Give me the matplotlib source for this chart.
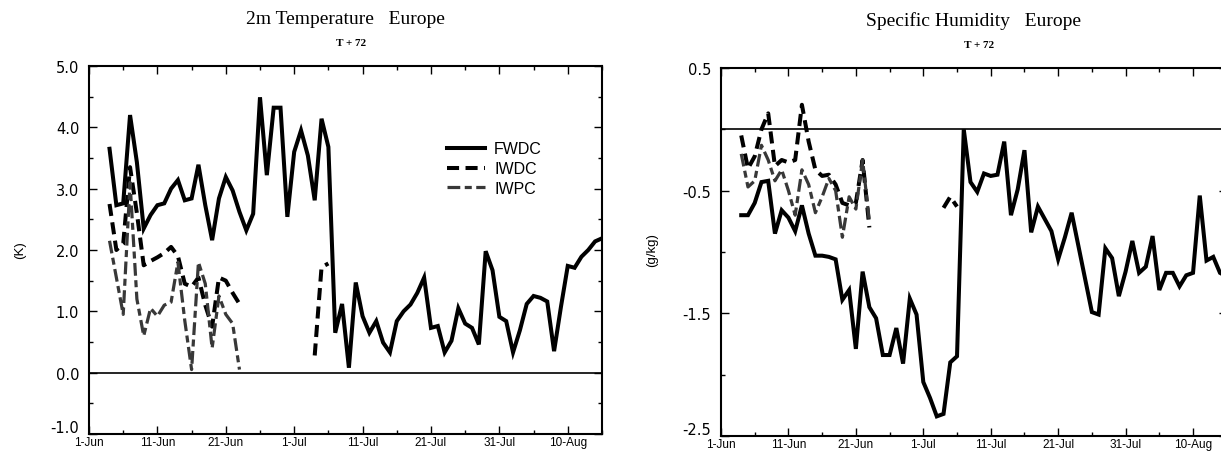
import numpy as np
import matplotlib
matplotlib.use("Agg")
import matplotlib.pyplot as plt
import matplotlib.transforms as mtransforms
from matplotlib.ticker import FixedLocator, MultipleLocator

plt.rcParams['font.family'] = ['Liberation Sans', 'DejaVu Sans']

# days counted from 1-Jun (day 0)
date_ticks = [0, 10, 20, 30, 40, 50, 60, 70]
date_labels = ['1-Jun', '11-Jun', '21-Jun', '1-Jul', '11-Jul', '21-Jul', '31-Jul', '10-Aug']

# 2m temperature (K)
temp_fwdc = [3.65, 2.73, 2.76, 4.2, 3.43, 2.35, 2.57, 2.73, 2.76, 3.0, 3.14, 2.81, 2.84,
             3.39, 2.73, 2.16, 2.84, 3.19, 2.97, 2.62, 2.32, 2.59, 4.49, 3.22, 4.32, 4.32,
             2.54, 3.6, 3.95, 3.54, 2.81, 4.14, 3.68,
             0.65, 1.12, 0.08, 1.47, 0.92, 0.65, 0.84, 0.49, 0.33, 0.84, 1.0, 1.11, 1.3,
             1.55, 0.73, 0.76, 0.33, 0.52, 1.05, 0.8, 0.73, 0.46, 1.98, 1.67, 0.91, 0.84,
             0.33, 0.69, 1.12, 1.25, 1.22, 1.16, 0.35, 1.07, 1.74, 1.71, 1.89, 2.0, 2.14, 2.19]
temp_iwdc_a = [2.75, 2.0, 2.1, 3.35, 2.6, 1.75, 1.82, 1.88, 1.95, 2.05, 1.9, 1.45, 1.4,
               1.55, 1.1, 0.75, 1.55, 1.5, 1.3, 1.12]
temp_iwdc_b = [0.28, 1.72, 1.78]
temp_iwpc = [2.15, 1.55, 0.95, 3.1, 1.2, 0.6, 1.05, 0.92, 1.1, 1.15, 1.8, 0.85, 0.05,
             1.8, 1.45, 0.4, 1.25, 0.95, 0.8, 0.05]

# specific humidity (g/kg)
hum_fwdc = [-0.70, -0.70, -0.6, -0.43, -0.42, -0.85, -0.66, -0.72, -0.83, -0.62, -0.85,
            -1.03, -1.03, -1.04, -1.06, -1.39, -1.31, -1.79, -1.16, -1.45, -1.54, -1.84,
            -1.84, -1.62, -1.91, -1.38, -1.51, -2.06, -2.19, -2.34, -2.32, -1.9, -1.85,
            0.0, -0.43, -0.51, -0.36, -0.38, -0.37, -0.1, -0.70, -0.49, -0.17, -0.84,
            -0.63, -0.73, -0.83, -1.06, -0.88, -0.68, -0.95, -1.22, -1.49, -1.51, -0.97,
            -1.05, -1.36, -1.16, -0.91, -1.17, -1.12, -0.87, -1.31, -1.17, -1.17, -1.28,
            -1.19, -1.17, -0.54, -1.07, -1.04, -1.17, -1.2]
hum_iwdc_a = [-0.05, -0.32, -0.22, 0.0, 0.13, -0.3, -0.25, -0.27, -0.25, 0.2, -0.1,
              -0.33, -0.38, -0.37, -0.45, -0.6, -0.62, -0.6, -0.25, -0.8]
hum_iwdc_b = [-0.64, -0.55, -0.63]
hum_iwpc = [-0.2, -0.47, -0.42, -0.13, -0.25, -0.42, -0.33, -0.5, -0.7, -0.33, -0.45,
            -0.68, -0.55, -0.4, -0.5, -0.88, -0.55, -0.65, -0.25, -0.75]

start_a = 3
start_b = 33

fig = plt.figure(figsize=(12.21, 4.56), dpi=100)
ax1 = fig.add_axes([0.0729, 0.0461, 0.4201, 0.807])
ax2 = fig.add_axes([0.5905, 0.0417, 0.4142, 0.807])

sty_fw = dict(color='black', lw=2.9, solid_joinstyle='miter')
sty_iwdc = dict(color='black', lw=2.9, dashes=(3.0, 1.6))
sty_iwpc = dict(color='0.22', lw=2.3, dashes=(4.0, 1.4, 2.2, 1.4))


def days(vals, start):
    return np.arange(start, start + len(vals))


def panel(ax, fw, iw_a, iw_b, ip, legend=False):
    l1, = ax.plot(days(fw, start_a), fw, label='FWDC', **sty_fw)
    l2, = ax.plot(days(iw_a, start_a), iw_a, label='IWDC', **sty_iwdc)
    ax.plot(days(iw_b, start_b), iw_b, **sty_iwdc)
    l3, = ax.plot(days(ip, start_a), ip, label='IWPC', **sty_iwpc)
    ax.axhline(0, color='black', lw=1.2)
    ax.set_xlim(0, 75)
    ax.xaxis.set_major_locator(FixedLocator(date_ticks))
    ax.xaxis.set_minor_locator(MultipleLocator(5))
    ax.set_xticklabels(date_labels, fontsize=8.5)
    ax.tick_params(which='both', direction='in', top=True, right=True, width=1)
    ax.tick_params(which='major', length=6)
    ax.tick_params(which='minor', length=3)
    ax.tick_params(axis='x', pad=1.5)
    ax.tick_params(axis='y', pad=7)
    for lab in ax.get_yticklabels():
        lab.set_family('DejaVu Sans')
        lab.set_fontsize(10.5)
    for s in ax.spines.values():
        s.set_linewidth(1.5)
    if legend:
        ax.legend(handles=[l1, l2, l3], loc='upper left', bbox_to_anchor=(0.698, 0.795),
                  frameon=False, fontsize=11.5, handlelength=2.4, handletextpad=0.55,
                  labelspacing=0.3, borderpad=0, borderaxespad=0)


ax1.set_ylim(-1.0, 5.0)
ax1.yaxis.set_major_locator(FixedLocator([5, 4, 3, 2, 1, 0, -1]))
ax1.yaxis.set_minor_locator(MultipleLocator(0.5))
ax1.set_yticklabels(['5.0', '4.0', '3.0', '2.0', '1.0', '0.0', '-1.0'])
panel(ax1, temp_fwdc, temp_iwdc_a, temp_iwdc_b, temp_iwpc, legend=True)

ax2.set_ylim(-2.5, 0.5)
ax2.yaxis.set_major_locator(FixedLocator([0.5, -0.5, -1.5, -2.5]))
ax2.yaxis.set_minor_locator(FixedLocator([0.0, -1.0, -2.0]))
ax2.set_yticklabels(['0.5', '-0.5', '-1.5', '-2.5'])
panel(ax2, hum_fwdc, hum_iwdc_a, hum_iwdc_b, hum_iwpc)

# bottom y label sits just above the first date label, as in the original
lift = mtransforms.ScaledTranslation(0, 6 / 72, fig.dpi_scale_trans)
for ax in (ax1, ax2):
    lab = ax.yaxis.get_major_ticks()[-1].label1
    lab.set_transform(lab.get_transform() + lift)

# titles
for ax, title in [(ax1, '2m Temperature   Europe'), (ax2, 'Specific Humidity   Europe')]:
    ax.text(0.5, 1.13, title, transform=ax.transAxes, ha='center', va='center',
            family='Liberation Serif', fontsize=14)
    ax.text(0.51, 1.065, 'T + 72', transform=ax.transAxes, ha='center', va='center',
            family='Liberation Serif', fontsize=8, fontweight='bold')

fig.text(20 / 1221, 1 - 250 / 456, '(K)', rotation=90, ha='center', va='center', fontsize=9.5)
fig.text(652 / 1221, 1 - 250 / 456, '(g/kg)', rotation=90, ha='center', va='center', fontsize=9.5)

fig.savefig('out.png', dpi=100)
